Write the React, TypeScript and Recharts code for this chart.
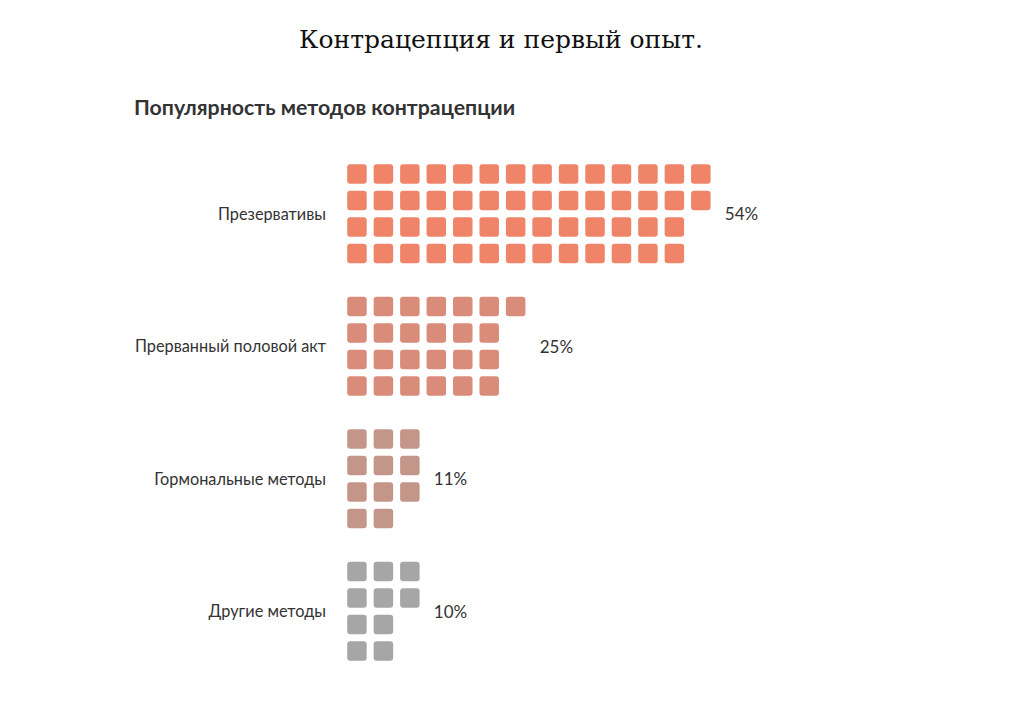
import { ScatterChart, Scatter, XAxis, YAxis } from "recharts";

const categories = [
  "Презервативы",
  "Прерванный половой акт",
  "Гормональные методы",
  "Другие методы",
];
const percents = [54, 25, 11, 10];
const colors = ["#ef8468", "#d98c7a", "#c4968a", "#a6a6a6"];

const ROWS = 4; // квадратов в столбце
const GROUP_STEP = 5; // 4 ряда + пустой

const FONT = "Lato, 'Open Sans', sans-serif";

function buildCells(value: number, group: number) {
  const cells: { x: number; y: number }[] = [];
  for (let k = 0; k < value; k++) {
    cells.push({ x: Math.floor(k / ROWS), y: group * GROUP_STEP + (k % ROWS) });
  }
  return cells;
}

const labelData = percents.map((p, g) => ({
  x: Math.ceil(p / ROWS) - 1,
  y: g * GROUP_STEP + (ROWS - 1) / 2,
  text: `${p}%`,
}));

const SquareShape = (props: any) => {
  const { cx, cy, fill } = props;
  const s = 19.5;
  return (
    <rect x={cx - s / 2} y={cy - s / 2} width={s} height={s} rx={3} ry={3} fill={fill} />
  );
};

const PercentShape = (props: any) => {
  const { cx, cy, payload } = props;
  return (
    <text
      x={cx + 24}
      y={cy}
      dominantBaseline="central"
      fontSize={17}
      fontFamily={FONT}
      fill="#333"
    >
      {payload.text}
    </text>
  );
};

export default function App() {
  return (
    <div
      style={{
        position: "absolute",
        left: 0,
        top: 0,
        width: 1024,
        height: 702,
        background: "#fff",
      }}
    >
      <div
        style={{
          position: "absolute",
          left: -11,
          width: 1024,
          top: 25,
          textAlign: "center",
          fontFamily: "'DejaVu Serif', serif",
          fontSize: 25,
          color: "#111",
        }}
      >
        Контрацепция и первый опыт.
      </div>
      <div
        style={{
          position: "absolute",
          left: 134,
          top: 94,
          fontFamily: FONT,
          fontWeight: 700,
          fontSize: 21.3,
          color: "#333",
        }}
      >
        Популярность методов контрацепции
      </div>
      <div style={{ position: "absolute", left: 0, top: 0 }}>
        <ScatterChart
          width={1024}
          height={702}
          margin={{ top: 147.5, right: 138, bottom: 11.25, left: 130.5 }}
        >
          <XAxis type="number" dataKey="x" domain={[-1, 20]} hide />
          <YAxis
            type="number"
            dataKey="y"
            domain={[-1, 19.5]}
            reversed
            width={200}
            axisLine={false}
            tickLine={false}
            tickSize={0}
            tickMargin={4.5}
            ticks={categories.map((_, g) => g * GROUP_STEP + (ROWS - 1) / 2)}
            tickFormatter={(v: number) =>
              categories[Math.round((v - (ROWS - 1) / 2) / GROUP_STEP)] ?? ""
            }
            tick={{ fontSize: 16.3, fontFamily: FONT, fill: "#333" }}
            interval={0}
          />
          {categories.map((c, g) => (
            <Scatter
              key={c}
              name={c}
              data={buildCells(percents[g], g)}
              fill={colors[g]}
              shape={SquareShape}
              isAnimationActive={false}
            />
          ))}
          <Scatter
            name="labels"
            data={labelData}
            fill="#333"
            shape={PercentShape}
            isAnimationActive={false}
          />
        </ScatterChart>
      </div>
    </div>
  );
}
